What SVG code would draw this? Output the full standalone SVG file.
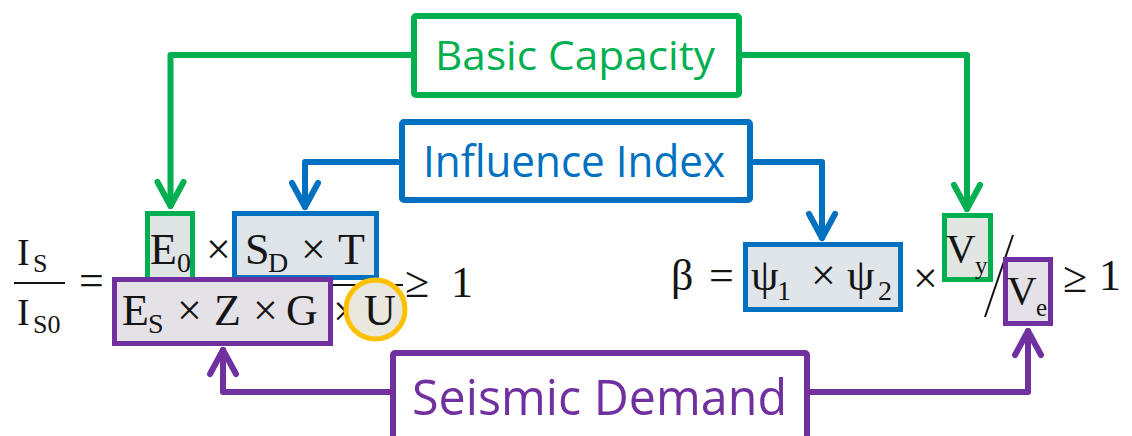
<svg xmlns="http://www.w3.org/2000/svg" width="1132" height="436" viewBox="0 0 1132 436">
  <style>
    .m { font-family: "Liberation Serif", "DejaVu Serif", serif; fill: #141414; }
    .big { font-size: 44px; }
    .sub { font-size: 28px; }
    .lbl { font-family: "Open Sans", "Noto Sans", sans-serif; }
    .conn { fill: none; stroke-width: 6; stroke-linecap: round; stroke-linejoin: round; }
    .box { stroke-width: 6; fill: #ffffff; }
    .term { stroke-width: 5; }
    .bar { stroke: #141414; stroke-width: 2; }
    .green { stroke: #00B050; }
    .blue { stroke: #0070C0; }
    .purple { stroke: #7030A0; }
  </style>
  <defs>
    <marker id="arrow-green" markerUnits="userSpaceOnUse" markerWidth="40" markerHeight="40" viewBox="-30 -20 40 40" refX="0" refY="0" orient="auto" overflow="visible">
      <path d="M-24,-13 L0,0 L-24,13" fill="none" stroke="#00B050" stroke-width="6" stroke-linecap="round" stroke-linejoin="round"/>
    </marker>
    <marker id="arrow-blue" markerUnits="userSpaceOnUse" markerWidth="40" markerHeight="40" viewBox="-30 -20 40 40" refX="0" refY="0" orient="auto" overflow="visible">
      <path d="M-24,-13 L0,0 L-24,13" fill="none" stroke="#0070C0" stroke-width="6" stroke-linecap="round" stroke-linejoin="round"/>
    </marker>
    <marker id="arrow-purple" markerUnits="userSpaceOnUse" markerWidth="40" markerHeight="40" viewBox="-30 -20 40 40" refX="0" refY="0" orient="auto" overflow="visible">
      <path d="M-24,-13 L0,0 L-24,13" fill="none" stroke="#7030A0" stroke-width="6" stroke-linecap="round" stroke-linejoin="round"/>
    </marker>
  </defs>

  <rect width="1132" height="436" fill="#ffffff"/>

  <!-- connectors -->
  <g id="connectors">
    <path class="conn green" d="M414,55 H170.5 V206" marker-end="url(#arrow-green)"/>
    <path class="conn green" d="M739,55 H967 V209" marker-end="url(#arrow-green)"/>
    <path class="conn blue" d="M402,162 H305 V207" marker-end="url(#arrow-blue)"/>
    <path class="conn blue" d="M750,162 H822 V238" marker-end="url(#arrow-blue)"/>
    <path class="conn purple" d="M393,392 H223 V350" marker-end="url(#arrow-purple)"/>
    <path class="conn purple" d="M807,392 H1028 V331" marker-end="url(#arrow-purple)"/>
  </g>

  <!-- label nodes -->
  <g id="basic-capacity">
    <rect class="box green" x="414" y="16" width="325" height="79" rx="2"/>
    <text class="lbl" x="435" y="70" font-size="40" fill="#00B050" textLength="280" lengthAdjust="spacingAndGlyphs">Basic Capacity</text>
  </g>
  <g id="influence-index">
    <rect class="box blue" x="402" y="122" width="348" height="78" rx="2"/>
    <text class="lbl" x="423" y="177" font-size="44" fill="#0070C0" textLength="302" lengthAdjust="spacingAndGlyphs">Influence Index</text>
  </g>
  <g id="seismic-demand">
    <rect class="box purple" x="393" y="353" width="414" height="86" rx="2"/>
    <text class="lbl" x="412" y="415" font-size="50" fill="#7030A0" textLength="375" lengthAdjust="spacingAndGlyphs">Seismic Demand</text>
  </g>

  <!-- left formula: Is / Is0 -->
  <g id="is-ratio">
    <text class="m" x="17" y="265" font-size="38">I</text>
    <text class="m" x="33" y="272" font-size="26">S</text>
    <line class="bar" x1="14" y1="283" x2="65" y2="283"/>
    <text class="m" x="17" y="325" font-size="38">I</text>
    <text class="m" x="33" y="333" font-size="26">S0</text>
    <text class="m big" x="79" y="295">=</text>
  </g>

  <g id="e0">
    <rect class="term green" x="147.5" y="213.5" width="45" height="66" fill="#DEE3E4"/>
    <text class="m big" x="150" y="264">E</text>
    <text class="m sub" x="177" y="272">0</text>
  </g>
  <text class="m big" x="206" y="264">×</text>
  <g id="sd-t">
    <rect class="term blue" x="234.5" y="213.5" width="142" height="64" fill="#DEE4E8"/>
    <text class="m big" x="245" y="264">S</text>
    <text class="m sub" x="268" y="272">D</text>
    <text class="m big" x="301" y="264">×</text>
    <text class="m big" x="338" y="264">T</text>
  </g>

  <line class="bar" x1="122" y1="285" x2="403" y2="285"/>
  <text class="m big" x="333" y="326">×</text>

  <g id="es-z-g">
    <rect class="term purple" x="114.5" y="279.5" width="216" height="64" fill="#E4E1E7"/>
    <text class="m big" x="122" y="325">E</text>
    <text class="m sub" x="148" y="333">S</text>
    <text class="m big" x="177" y="325">×</text>
    <text class="m big" x="214" y="325">Z</text>
    <text class="m big" x="253" y="325">×</text>
    <text class="m big" x="286" y="325">G</text>
  </g>

  <g id="u">
    <circle cx="375.5" cy="309.5" r="29.5" fill="#E9E7DE" stroke="#FFC000" stroke-width="5"/>
    <text class="m big" x="364" y="325">U</text>
  </g>

  <text class="m big" x="405" y="297">≥</text>
  <text class="m big" x="451" y="297">1</text>

  <!-- right formula: beta -->
  <text class="m big" x="671" y="290">β</text>
  <text class="m big" x="709" y="290">=</text>
  <g id="psi">
    <rect class="term blue" x="745.5" y="244.5" width="155" height="65" fill="#DFE5E9"/>
    <text class="m big" x="751" y="290">ψ</text>
    <text class="m sub" x="777" y="300">1</text>
    <text class="m big" x="811" y="290">×</text>
    <text class="m big" x="847" y="290">ψ</text>
    <text class="m sub" x="878" y="300">2</text>
  </g>
  <text class="m big" x="913" y="293">×</text>

  <g id="vy">
    <rect class="term green" x="944.5" y="215.5" width="46" height="64" fill="#E1E6E3"/>
    <text class="m" x="946" y="262" font-size="41">V</text>
    <text class="m" x="975" y="274" font-size="25">y</text>
  </g>
  <line class="bar" x1="985" y1="317" x2="1013" y2="235"/>
  <g id="ve">
    <rect class="term purple" x="1005.5" y="259.5" width="45" height="64" fill="#E5E1E8"/>
    <text class="m" x="1007" y="304" font-size="41">V</text>
    <text class="m" x="1036" y="316" font-size="25">e</text>
  </g>
  <text class="m big" x="1063" y="292">≥</text>
  <text class="m big" x="1099" y="290">1</text>
</svg>
